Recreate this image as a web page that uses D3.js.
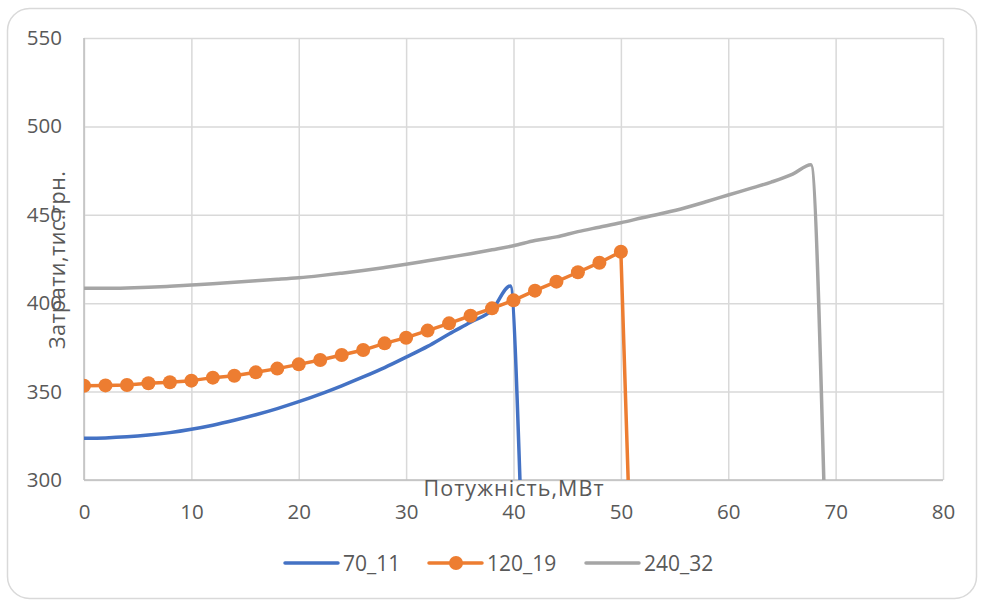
<!DOCTYPE html>
<html>
<head>
<meta charset="utf-8">
<script src="https://cdn.jsdelivr.net/npm/d3@7"></script>
<style>
  body { margin: 0; background: #fff; }
  text { font-family: "Open Sans", "Liberation Sans", sans-serif; fill: #595959; }
</style>
</head>
<body>
<svg id="chart" width="984" height="600"></svg>
<script>
// Series: capacity (MW) vs. cost (thousand UAH)
const seriesNames = ["70_11", "120_19", "240_32"];

const blueX = [0, 2, 4, 6, 8, 10, 12, 14, 16, 18, 20, 22, 24, 26, 28, 30, 32, 34, 36, 38, 39.7, 40.6];
const blueY = [323.6, 323.8, 324.4, 325.4, 326.8, 328.7, 331.0, 333.8, 336.9, 340.4, 344.3,
               348.6, 353.3, 358.3, 363.6, 369.5, 375.6, 382.6, 389.2, 396.2, 409.7, 300];

const orangeX = [0, 2, 4, 6, 8, 10, 12, 14, 16, 18, 20, 22, 24, 26, 28, 30, 32, 34, 36, 38, 40,
                 42, 44, 46, 48, 50, 52];
const orangeY = [353.3, 353.5, 353.7, 354.7, 355.3, 356.2, 357.9, 359.0, 360.9, 363.0, 365.4,
                 367.9, 370.7, 373.5, 377.3, 380.5, 384.5, 388.6, 392.9, 397.1, 401.6,
                 407.1, 412.2, 417.5, 422.9, 429.1, 49];

const grayX = [0, 2, 4, 6, 8, 10, 12, 14, 16, 18, 20, 22, 24, 26, 28, 30, 32, 34, 36, 38, 40,
               42, 44, 46, 48, 50, 52, 54, 56, 58, 60, 62, 64, 66, 67.7, 68.9];
const grayY = [408.4, 408.4, 408.6, 409.0, 409.6, 410.3, 411.0, 411.8, 412.7, 413.5, 414.4,
               415.6, 417.0, 418.5, 420.2, 422.0, 424.0, 426.0, 428.0, 430.2, 432.5,
               435.5, 437.5, 440.5, 443.0, 445.5, 448.3, 451.0, 454.0, 457.5, 461.2,
               464.8, 468.5, 473.0, 478.3, 300];

const xTickValues = [0, 10, 20, 30, 40, 50, 60, 70, 80];
const yTickValues = [300, 350, 400, 450, 500, 550];

const xTitle = "Потужність,МВт";
const yTitle = "Затрати,тис.грн.";

const colors = ["#4472C4", "#ED7D31", "#A5A5A5"];

const svg = d3.select("#chart");
const W = 984, H = 600;
const plot = { left: 84, right: 943, top: 38, bottom: 480 };

// outer chart frame
svg.append("rect")
  .attr("x", 7.5).attr("y", 8.5)
  .attr("width", W - 15).attr("height", H - 10)
  .attr("rx", 22).attr("ry", 22)
  .attr("fill", "#fff").attr("stroke", "#d9d9d9").attr("stroke-width", 1.5);

const x = d3.scaleLinear().domain([0, 80]).range([plot.left, plot.right]);
const y = d3.scaleLinear().domain([300, 550]).range([plot.bottom, plot.top]);

// gridlines and tick labels
const gx = svg.append("g")
  .attr("transform", `translate(0,${plot.bottom})`)
  .call(d3.axisBottom(x).tickValues(xTickValues)
    .tickSize(-(plot.bottom - plot.top)).tickFormat(d3.format("d")));
gx.select(".domain").remove();
gx.selectAll(".tick line").attr("stroke", "#d9d9d9").attr("stroke-width", 1.5);
gx.selectAll(".tick text").attr("font-size", 20.5).attr("dy", null).attr("y", 38.5);

const gy = svg.append("g")
  .attr("transform", `translate(${plot.left},0)`)
  .call(d3.axisLeft(y).tickValues(yTickValues)
    .tickSize(-(plot.right - plot.left)).tickFormat(d3.format("d")).tickPadding(22));
gy.select(".domain").remove();
gy.selectAll(".tick line").attr("stroke", "#d9d9d9").attr("stroke-width", 1.5);
gy.selectAll(".tick text").attr("font-size", 20.5);

// axis lines
svg.append("line")
  .attr("x1", plot.left).attr("x2", plot.left)
  .attr("y1", plot.top).attr("y2", plot.bottom)
  .attr("stroke", "#bfbfbf").attr("stroke-width", 1.5);
svg.append("line")
  .attr("x1", plot.left).attr("x2", plot.right)
  .attr("y1", plot.bottom).attr("y2", plot.bottom)
  .attr("stroke", "#bfbfbf").attr("stroke-width", 1.5);

// clip to plot area
svg.append("clipPath").attr("id", "plotClip")
  .append("rect")
  .attr("x", plot.left).attr("y", plot.top - 10)
  .attr("width", plot.right - plot.left).attr("height", plot.bottom - plot.top + 10);

const marks = svg.append("g").attr("clip-path", "url(#plotClip)");

const toPts = (xs, ys) => xs.map((v, i) => [v, ys[i]]);
const blue = toPts(blueX, blueY);
const orange = toPts(orangeX, orangeY);
const gray = toPts(grayX, grayY);

const smooth = d3.line().x(d => x(d[0])).y(d => y(d[1])).curve(d3.curveMonotoneX);
const straight = d3.line().x(d => x(d[0])).y(d => y(d[1]));

marks.append("path").datum(blue).attr("d", smooth)
  .attr("fill", "none").attr("stroke", colors[0]).attr("stroke-width", 3.5)
  .attr("stroke-linejoin", "round").attr("stroke-linecap", "round");

marks.append("path").datum(orange).attr("d", straight)
  .attr("fill", "none").attr("stroke", colors[1]).attr("stroke-width", 3.5)
  .attr("stroke-linejoin", "round");
marks.selectAll("circle.m").data(orange).join("circle")
  .attr("class", "m")
  .attr("cx", d => x(d[0])).attr("cy", d => y(d[1])).attr("r", 7)
  .attr("fill", colors[1]);

marks.append("path").datum(gray).attr("d", smooth)
  .attr("fill", "none").attr("stroke", colors[2]).attr("stroke-width", 3.5)
  .attr("stroke-linejoin", "round").attr("stroke-linecap", "round");

// axis titles
svg.append("text")
  .attr("x", (plot.left + plot.right) / 2).attr("y", 496)
  .attr("text-anchor", "middle").attr("font-size", 21.5)
  .attr("textLength", 180).attr("lengthAdjust", "spacing")
  .text(xTitle);

svg.append("text")
  .attr("transform", "translate(65,260) rotate(-90)")
  .attr("text-anchor", "middle").attr("font-size", 21.5)
  .attr("textLength", 178).attr("lengthAdjust", "spacing")
  .text(yTitle);

// legend
const legendItems = [
  { name: seriesNames[0], color: colors[0], x0: 285, marker: false },
  { name: seriesNames[1], color: colors[1], x0: 429, marker: true },
  { name: seriesNames[2], color: colors[2], x0: 586, marker: false }
];
const lg = svg.append("g");
legendItems.forEach(it => {
  lg.append("line")
    .attr("x1", it.x0).attr("x2", it.x0 + 53)
    .attr("y1", 563).attr("y2", 563)
    .attr("stroke", it.color).attr("stroke-width", 3.5).attr("stroke-linecap", "round");
  if (it.marker) {
    lg.append("circle").attr("cx", it.x0 + 27).attr("cy", 563).attr("r", 7).attr("fill", it.color);
  }
  lg.append("text")
    .attr("x", it.x0 + 58).attr("y", 571)
    .attr("font-size", 21)
    .text(it.name);
});
</script>
</body>
</html>
